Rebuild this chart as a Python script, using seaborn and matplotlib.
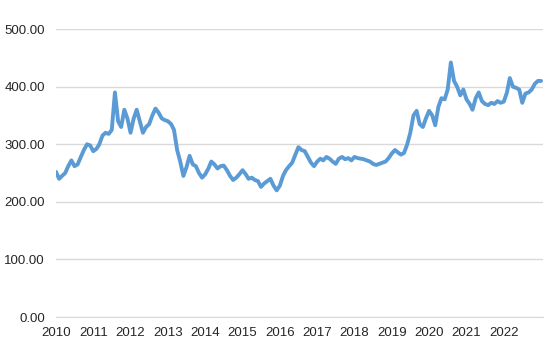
import matplotlib
matplotlib.use("Agg")
import matplotlib.pyplot as plt
import matplotlib.dates as mdates
import matplotlib.ticker as mticker
import seaborn as sns
import pandas as pd

# monthly values (2010-01 .. 2023-01)
v2010 = [252, 240, 245, 250, 262, 272, 262, 265, 278, 290, 300, 298]
v2011 = [288, 292, 300, 315, 320, 318, 325, 390, 340, 330, 360, 345]
v2012 = [320, 345, 360, 340, 320, 330, 335, 350, 362, 355, 345, 342]
v2013 = [340, 335, 325, 290, 270, 245, 260, 280, 265, 262, 250, 242]
v2014 = [248, 258, 270, 265, 258, 262, 263, 255, 245, 238, 242, 248]
v2015 = [255, 248, 240, 242, 238, 236, 226, 232, 236, 240, 228, 220]
v2016 = [228, 245, 255, 262, 268, 282, 295, 290, 288, 278, 268, 262]
v2017 = [270, 275, 272, 278, 275, 270, 266, 275, 278, 274, 276, 272]
v2018 = [278, 276, 275, 274, 272, 270, 266, 264, 266, 268, 270, 276]
v2019 = [284, 290, 286, 282, 285, 300, 320, 350, 358, 335, 330, 345]
v2020 = [358, 350, 333, 365, 380, 378, 395, 442, 410, 400, 385, 395]
v2021 = [378, 370, 360, 380, 390, 375, 370, 368, 372, 370, 375, 372]
v2022 = [374, 390, 415, 400, 398, 395, 372, 388, 390, 395, 405, 410]
v2023 = [410]
years = list(range(2010, 2023))

values = (v2010 + v2011 + v2012 + v2013 + v2014 + v2015 + v2016
          + v2017 + v2018 + v2019 + v2020 + v2021 + v2022 + v2023)
dates = pd.date_range("2010-01-01", periods=len(values), freq="MS")
df = pd.DataFrame({"date": dates, "value": values})

sns.set_style("white")
plt.rcParams["font.family"] = ["Liberation Sans", "DejaVu Sans"]

fig = plt.figure(figsize=(5.51, 3.55), dpi=100)
ax = fig.add_axes([0.1016, 0.107, 0.8839, 0.811])

sns.lineplot(data=df, x="date", y="value", color="#5B9BD5", linewidth=2.8, ax=ax)

ax.set_ylim(0, 500)
ax.set_xlim(pd.Timestamp("2010-01-01"), pd.Timestamp("2023-01-20"))
ax.yaxis.set_major_locator(mticker.MultipleLocator(100))
ax.yaxis.set_major_formatter(mticker.FormatStrFormatter("%.2f"))
ax.set_xticks([pd.Timestamp(f"{y}-01-01") for y in years])
ax.xaxis.set_major_formatter(mdates.DateFormatter("%Y"))

ax.grid(axis="y", color="#D9D9D9", linewidth=1)
ax.set_axisbelow(True)
for s in ["left", "right", "top"]:
    ax.spines[s].set_visible(False)
ax.spines["bottom"].set_color("#D9D9D9")
ax.tick_params(axis="x", length=4, color="#D9D9D9", labelsize=9.5, labelcolor="#262626", pad=3)
ax.tick_params(axis="y", length=0, labelsize=9.5, labelcolor="#262626", pad=8)
ax.set_xlabel("")
ax.set_ylabel("")

fig.savefig("out.png", dpi=100)
